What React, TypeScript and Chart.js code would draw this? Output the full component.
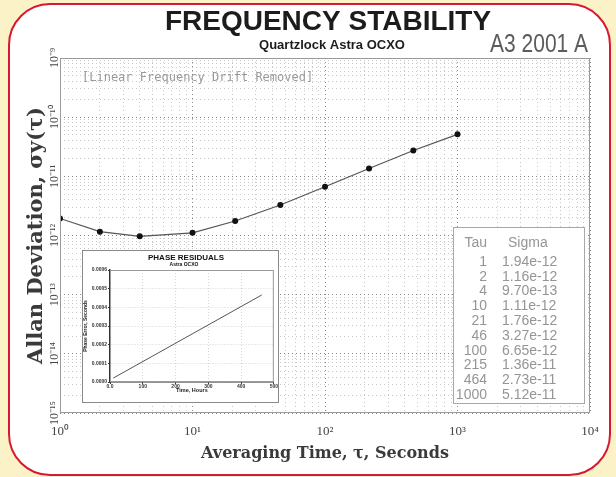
import { useEffect, useRef } from 'react';
import { Chart, registerables } from 'chart.js';

Chart.register(...registerables);

// ---- main chart data ----
const TAU = [1, 2, 4, 10, 21, 46, 100, 215, 464, 1000];
const SIGMA = [1.94e-12, 1.16e-12, 9.7e-13, 1.11e-12, 1.76e-12, 3.27e-12, 6.65e-12, 1.36e-11, 2.73e-11, 5.12e-11];
const X_MIN = 1;
const X_MAX = 1e4;
const Y_MIN = 1e-15;
const Y_MAX = 1e-9;

const TITLE = 'FREQUENCY STABILITY';
const SUBTITLE = 'Quartzlock Astra OCXO';
const STAMP = 'A3 2001 A';
const NOTE = '[Linear Frequency Drift Removed]';
const TABLE_HEAD = ['Tau', 'Sigma'];
const X_TITLE = 'Averaging Time, τ, Seconds';
const Y_TITLE = 'Allan Deviation, σy(τ)';

// ---- inset chart data ----
const INSET_TIME = [10, 463];
const INSET_PHASE = [0.000021, 0.000466];
const INSET_X_MAX = 500;
const INSET_Y_MAX = 0.0006;
const INSET_TITLE = 'PHASE RESIDUALS';
const INSET_SUBTITLE = 'Astra OCXO';
const INSET_X_TITLE = 'Time, Hours';
const INSET_Y_TITLE = 'Phase Error, Seconds';

const BEIGE = '#fcf2c7';
const RED = '#d8182e';

const SUP: Record<string, string> = {
  '-': '⁻', '0': '⁰', '1': '¹', '2': '²', '3': '³', '4': '⁴',
  '5': '⁵', '6': '⁶', '7': '⁷', '8': '⁸', '9': '⁹',
};

const isDecade = (v: number) => {
  const e = Math.log10(v);
  return Math.abs(e - Math.round(e)) < 1e-6;
};
const pow10Label = (v: number) => {
  if (!isDecade(v)) return '';
  const r = Math.round(Math.log10(v));
  return '10' + String(r).split('').map((c) => SUP[c]).join('');
};
const keepTick = (v: number) => {
  const m = v / Math.pow(10, Math.floor(Math.log10(v) + 1e-9));
  return Math.abs(m - Math.round(m)) < 1e-6;
};

const gridColor = (c: any) => (c.tick && isDecade(c.tick.value) ? '#888888' : '#c8c8c8');

const mainDecor = {
  id: 'mainDecor',
  afterDraw(chart: any) {
    const { ctx, chartArea: a } = chart;
    ctx.save();
    ctx.strokeStyle = '#9a9a9a';
    ctx.lineWidth = 1;
    ctx.strokeRect(a.left + 0.5, a.top + 0.5, a.right - a.left - 1, a.bottom - a.top - 1);

    ctx.textBaseline = 'middle';
    ctx.textAlign = 'center';
    ctx.fillStyle = '#1c1c1c';
    ctx.font = 'bold 28px "Liberation Sans", Arial, sans-serif';
    ctx.fillText(TITLE, 328, 22);
    ctx.font = 'bold 13px "Liberation Sans", Arial, sans-serif';
    ctx.fillText(SUBTITLE, 332, 45);

    // condensed stamp
    ctx.save();
    ctx.textAlign = 'left';
    ctx.fillStyle = '#5c5c5c';
    ctx.font = '25px "Liberation Sans", Arial, sans-serif';
    ctx.translate(490, 45);
    ctx.scale(0.84, 1);
    ctx.fillText(STAMP, 0, 0);
    ctx.restore();

    ctx.textAlign = 'left';
    ctx.fillStyle = '#9a9a9a';
    ctx.font = '12px "DejaVu Sans Mono", monospace';
    ctx.fillText(NOTE, 82, 78);

    // table box
    ctx.fillStyle = '#ffffff';
    ctx.fillRect(453, 227, 132, 177);
    ctx.strokeStyle = '#a8a8a8';
    ctx.strokeRect(453.5, 227.5, 131, 176);
    ctx.fillStyle = '#959595';
    ctx.font = '14px "Liberation Sans", Arial, sans-serif';
    ctx.textAlign = 'right';
    ctx.fillText(TABLE_HEAD[0], 487, 243);
    ctx.textAlign = 'left';
    ctx.fillText(TABLE_HEAD[1], 508, 243);
    TAU.forEach((t, i) => {
      const y = 262 + i * 14.8;
      ctx.textAlign = 'right';
      ctx.fillText(String(t), 487, y);
      ctx.textAlign = 'left';
      ctx.fillText(SIGMA[i].toExponential(2), 502, y);
    });
    ctx.restore();
  },
};

const insetDecor = {
  id: 'insetDecor',
  afterDraw(chart: any) {
    const { ctx, chartArea: a } = chart;
    ctx.save();
    ctx.strokeStyle = '#9a9a9a';
    ctx.lineWidth = 1;
    ctx.strokeRect(a.left + 0.5, a.top + 0.5, a.right - a.left - 1, a.bottom - a.top - 1);
    ctx.textAlign = 'center';
    ctx.textBaseline = 'middle';
    ctx.fillStyle = '#111';
    ctx.font = 'bold 8px "Liberation Sans", Arial, sans-serif';
    ctx.fillText(INSET_TITLE, 103, 7);
    ctx.font = 'bold 5px "Liberation Sans", Arial, sans-serif';
    ctx.fillText(INSET_SUBTITLE, 101, 14);
    ctx.restore();
  },
};

export default function App() {
  const mainRef = useRef<HTMLCanvasElement>(null);
  const insetRef = useRef<HTMLCanvasElement>(null);

  useEffect(() => {
    document.body.style.margin = '0';
    const main = new Chart(mainRef.current as HTMLCanvasElement, {
      type: 'scatter',
      data: {
        datasets: [
          {
            data: TAU.map((t, i) => ({ x: t, y: SIGMA[i] })),
            showLine: true,
            borderColor: '#555555',
            borderWidth: 1.2,
            pointRadius: 3,
            pointBackgroundColor: '#111111',
            pointBorderColor: '#111111',
            pointBorderWidth: 0,
          },
        ],
      },
      options: {
        animation: false,
        responsive: false,
        devicePixelRatio: 1,
        layout: { padding: { left: 0, top: 58, right: 26, bottom: 0 } },
        plugins: { legend: { display: false }, tooltip: { enabled: false } },
        scales: {
          x: {
            type: 'logarithmic',
            min: X_MIN,
            max: X_MAX,
            afterBuildTicks: (s: any) => {
              s.ticks = s.ticks.filter((t: any) => keepTick(t.value));
            },
            afterFit: (s: any) => {
              s.height = 64;
            },
            ticks: {
              autoSkip: false,
              maxRotation: 0,
              minRotation: 0,
              padding: 11,
              color: '#444',
              font: { family: '"Liberation Serif", "Times New Roman", serif', size: 13 },
              callback: (v: any) => pow10Label(Number(v)),
            },
            grid: { color: gridColor, lineWidth: 1, drawTicks: false },
            border: { display: false, dash: [1, 3] },
            title: {
              display: true,
              text: X_TITLE,
              color: '#3a3a3a',
              font: { family: '"DejaVu Serif", serif', size: 16, weight: 'bold' },
              padding: { top: 0, bottom: 14 },
            },
          },
          y: {
            type: 'logarithmic',
            min: Y_MIN,
            max: Y_MAX,
            afterBuildTicks: (s: any) => {
              s.ticks = s.ticks.filter((t: any) => keepTick(t.value));
            },
            afterFit: (s: any) => {
              s.width = 60;
            },
            ticks: {
              autoSkip: false,
              minRotation: 90,
              maxRotation: 90,
              crossAlign: 'center',
              padding: -7,
              color: '#444',
              font: { family: '"Liberation Serif", "Times New Roman", serif', size: 12 },
              callback: (v: any) => pow10Label(Number(v)),
            },
            grid: { color: gridColor, lineWidth: 1, drawTicks: false },
            border: { display: false, dash: [1, 3] },
            title: {
              display: true,
              text: Y_TITLE,
              color: '#3a3a3a',
              font: { family: '"DejaVu Serif", serif', size: 21, weight: 'bold' },
              padding: { top: 24, bottom: 0 },
            },
          },
        },
      } as any,
      plugins: [mainDecor],
    });

    const inset = new Chart(insetRef.current as HTMLCanvasElement, {
      type: 'scatter',
      data: {
        datasets: [
          {
            data: INSET_TIME.map((t, i) => ({ x: t, y: INSET_PHASE[i] })),
            showLine: true,
            borderColor: '#555555',
            borderWidth: 1,
            pointRadius: 0,
          },
        ],
      },
      options: {
        animation: false,
        responsive: false,
        devicePixelRatio: 1,
        layout: { padding: { left: 0, top: 19, right: 4, bottom: 0 } },
        plugins: { legend: { display: false }, tooltip: { enabled: false } },
        scales: {
          x: {
            type: 'linear',
            min: 0,
            max: INSET_X_MAX,
            afterFit: (s: any) => {
              s.height = 20;
            },
            ticks: {
              stepSize: 100,
              autoSkip: false,
              maxRotation: 0,
              padding: 0,
              color: '#333',
              font: { family: '"Liberation Sans", Arial, sans-serif', size: 5, weight: 'bold' },
              callback: (v: any) => (Number(v) === 0 ? '0.0' : String(v)),
            },
            grid: { color: '#d4d4d4', drawTicks: true, tickLength: 2, tickColor: '#333' },
            border: { display: true, color: '#333', width: 1.5, dash: [1, 2] },
            title: {
              display: true,
              text: INSET_X_TITLE,
              color: '#222',
              font: { family: '"Liberation Sans", Arial, sans-serif', size: 5.5, weight: 'bold' },
              padding: { top: 0, bottom: 8 },
            },
          },
          y: {
            type: 'linear',
            min: 0,
            max: INSET_Y_MAX,
            afterFit: (s: any) => {
              s.width = 27;
            },
            ticks: {
              stepSize: 0.0001,
              autoSkip: false,
              padding: 1,
              color: '#333',
              font: { family: '"Liberation Sans", Arial, sans-serif', size: 5, weight: 'bold' },
              callback: (v: any) => Number(v).toFixed(4),
            },
            grid: { color: '#d4d4d4', drawTicks: true, tickLength: 2, tickColor: '#333' },
            border: { display: true, color: '#333', width: 1.5, dash: [1, 2] },
            title: {
              display: true,
              text: INSET_Y_TITLE,
              color: '#222',
              font: { family: '"Liberation Sans", Arial, sans-serif', size: 5, weight: 'bold' },
              padding: { top: 0, bottom: 0 },
            },
          },
        },
      } as any,
      plugins: [insetDecor],
    });

    return () => {
      main.destroy();
      inset.destroy();
    };
  }, []);

  return (
    <div
      style={{
        position: 'fixed',
        left: 0,
        top: 0,
        width: 616,
        height: 477,
        background: BEIGE,
        overflow: 'hidden',
      }}
    >
      <div
        style={{
          position: 'absolute',
          left: 8,
          top: 3,
          width: 603,
          height: 473,
          boxSizing: 'border-box',
          border: `2px solid ${RED}`,
          borderRadius: 42,
          background: '#ffffff',
        }}
      />
      <canvas
        ref={mainRef}
        width={616}
        height={477}
        style={{ position: 'absolute', left: 0, top: 0, width: 616, height: 477 }}
      />
      <div
        style={{
          position: 'absolute',
          left: 82,
          top: 250,
          width: 197,
          height: 153,
          boxSizing: 'border-box',
          border: '1px solid #8a8a8a',
          background: '#ffffff',
        }}
      >
        <canvas ref={insetRef} width={195} height={151} style={{ display: 'block', width: 195, height: 151 }} />
      </div>
    </div>
  );
}
